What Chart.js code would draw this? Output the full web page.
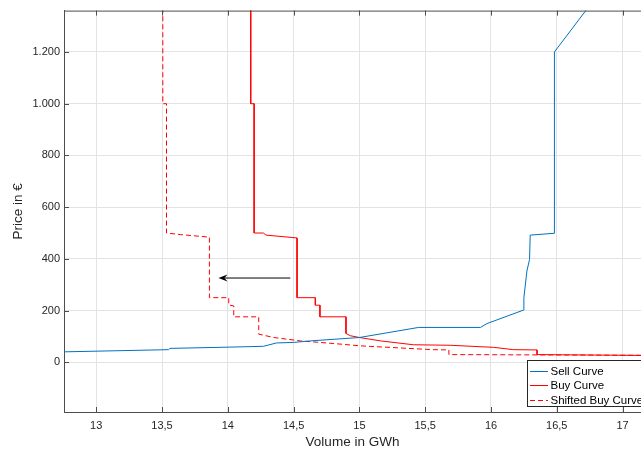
<!DOCTYPE html>
<html>
<head>
<meta charset="utf-8">
<script src="https://cdn.jsdelivr.net/npm/chart.js@4.4.1/dist/chart.umd.min.js"></script>
<style>
  body { margin: 0; background: #fff; }
  #chart { display: block; }
</style>
</head>
<body>
<canvas id="chart" width="641" height="450"></canvas>
<script>
// values (GWh, €/MWh)
const sellVolume = [12.70, 13.55, 13.56, 13.94, 14.27, 14.37, 14.50, 14.63, 15.00, 15.45, 15.92, 15.97, 16.247, 16.25, 16.273, 16.293, 16.298, 16.482, 16.482, 16.75];
const sellPrice  = [40, 49, 54, 58, 62, 75, 77, 83, 96, 135, 135, 150, 202, 250, 353, 398, 492, 499, 1200, 1380];

const buyVolume = [14.174, 14.174, 14.20, 14.20, 14.27, 14.29, 14.526, 14.526, 14.665, 14.665, 14.70, 14.70, 14.898, 14.898, 14.93, 15.00, 15.16, 15.41, 15.69, 16.02, 16.17, 16.35, 16.35, 17.30];
const buyPrice  = [1400, 1000, 1000, 500, 500, 492, 481, 250, 250, 221, 221, 176, 176, 112, 103, 96, 83, 68, 66, 58, 49, 48, 30, 26];

const shiftedVolume = [13.506, 13.506, 13.534, 13.534, 13.64, 13.86, 13.86, 14.007, 14.007, 14.045, 14.045, 14.235, 14.235, 14.35, 14.55, 14.80, 15.00, 15.56, 15.68, 15.68, 17.30];
const shiftedPrice  = [1400, 1000, 1000, 500, 494, 484, 250, 250, 222, 218, 176, 176, 109, 96, 83, 73, 64, 49, 48, 30, 27];

const arrowVolume = [14.475, 13.929];
const arrowPrice  = [326, 326];

const seriesNames = ['Sell Curve', 'Buy Curve', 'Shifted Buy Curve'];
const xTicksStep = 0.5;
const yTicksStep = 200;

const toPoints = (xs, ys) => xs.map((x, i) => ({x, y: ys[i]}));
const FONT = "'Liberation Sans', Arial, Helvetica, sans-serif";
const AXIS = '#4d4d4d';

const datasets = [
  { label: seriesNames[0], data: toPoints(sellVolume, sellPrice), borderColor: '#0072BD', borderDash: [] },
  { label: seriesNames[1], data: toPoints(buyVolume, buyPrice), borderColor: '#FF0000', borderDash: [] },
  { label: seriesNames[2], data: toPoints(shiftedVolume, shiftedPrice), borderColor: '#FF0000', borderDash: [5, 3] }
].map(d => Object.assign(d, { borderWidth: 1, pointRadius: 0, tension: 0, fill: false }));

const fmtX = v => String(v).replace('.', ',');
const fmtY = v => Math.abs(v) >= 1000 ? v.toLocaleString('de-DE') : String(v);

// box, inward ticks, arrow and legend
const extras = {
  id: 'extras',
  afterDatasetsDraw(chart) {
    const {ctx, chartArea: a, scales: {x, y}} = chart;
    ctx.save();
    ctx.strokeStyle = AXIS;
    ctx.lineWidth = 1;
    ctx.beginPath();
    ctx.moveTo(a.left, a.top + 0.5); ctx.lineTo(a.right, a.top + 0.5);
    x.ticks.forEach(t => {
      const px = Math.round(x.getPixelForValue(t.value)) + 0.5;
      ctx.moveTo(px, a.top); ctx.lineTo(px, a.top + 5);
      ctx.moveTo(px, a.bottom); ctx.lineTo(px, a.bottom - 5);
    });
    y.ticks.forEach(t => {
      const py = Math.round(y.getPixelForValue(t.value)) + 0.5;
      ctx.moveTo(a.left, py); ctx.lineTo(a.left + 5, py);
    });
    ctx.stroke();

    // arrow
    const x0 = x.getPixelForValue(arrowVolume[0]), x1 = x.getPixelForValue(arrowVolume[1]);
    const y0 = y.getPixelForValue(arrowPrice[0]), y1 = y.getPixelForValue(arrowPrice[1]);
    ctx.strokeStyle = '#000';
    ctx.fillStyle = '#000';
    ctx.beginPath();
    ctx.moveTo(x0, y0); ctx.lineTo(x1 + 6, y1);
    ctx.stroke();
    ctx.beginPath();
    ctx.moveTo(x1, y1);
    ctx.lineTo(x1 + 9, y1 - 3.5);
    ctx.lineTo(x1 + 6, y1);
    ctx.lineTo(x1 + 9, y1 + 3.5);
    ctx.closePath();
    ctx.fill();

    // legend
    const lx = 527.5, ly = 360.5, lw = 130, lh = 46;
    ctx.fillStyle = '#fff';
    ctx.fillRect(lx, ly, lw, lh);
    ctx.strokeStyle = '#262626';
    ctx.strokeRect(lx, ly, lw, lh);
    ctx.font = '11.5px ' + FONT;
    ctx.textBaseline = 'middle';
    chart.data.datasets.forEach((d, i) => {
      const ry = Math.round(ly + 10 + i * 14.7) + 0.5;
      ctx.strokeStyle = d.borderColor;
      ctx.setLineDash(d.borderDash);
      ctx.beginPath();
      ctx.moveTo(530, ry); ctx.lineTo(548, ry);
      ctx.stroke();
      ctx.setLineDash([]);
      ctx.fillStyle = '#000';
      ctx.fillText(d.label, 550.5, ry);
    });
    ctx.restore();
  }
};

new Chart(document.getElementById('chart'), {
  type: 'line',
  data: { datasets },
  plugins: [extras],
  options: {
    responsive: false,
    animation: false,
    devicePixelRatio: 1,
    layout: { padding: { top: 8, right: 0, bottom: 0, left: 0 } },
    plugins: { legend: { display: false }, tooltip: { enabled: false } },
    scales: {
      x: {
        type: 'linear',
        min: 12.755,
        max: 17.14,
        afterFit: s => { s.height = 38; },
        border: { color: AXIS, width: 1 },
        grid: { color: '#e3e3e3', drawTicks: false },
        ticks: {
          stepSize: xTicksStep, includeBounds: false, padding: 7, maxRotation: 0,
          color: '#262626', font: { family: FONT, size: 11 },
          callback: v => fmtX(v)
        },
        title: {
          display: true, text: 'Volume in GWh', color: '#262626',
          font: { family: FONT, size: 13.5 }, padding: { top: 0, bottom: 0 }
        }
      },
      y: {
        type: 'linear',
        min: -192,
        max: 1360,
        afterFit: s => { s.width = 64; },
        border: { color: AXIS, width: 1 },
        grid: { color: '#e3e3e3', drawTicks: false },
        ticks: {
          stepSize: yTicksStep, includeBounds: false, padding: 4,
          color: '#262626', font: { family: FONT, size: 11 },
          callback: v => fmtY(v)
        },
        title: {
          display: true, text: 'Price in €', color: '#262626',
          font: { family: FONT, size: 13.5 }, padding: { top: 10, bottom: 0 }
        }
      }
    }
  }
});
</script>
</body>
</html>
